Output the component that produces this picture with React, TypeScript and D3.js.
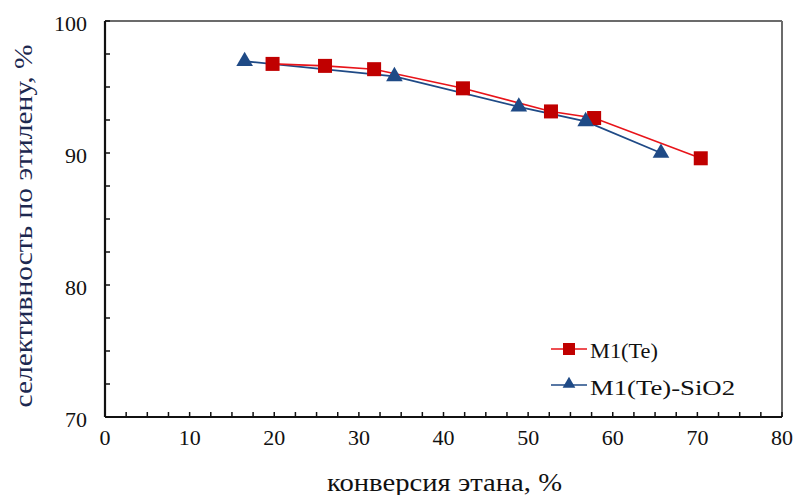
import React from "react";
import * as d3 from "d3";

const seriesNames = ["M1(Te)", "M1(Te)-SiO2"];
const teX = [19.8, 26.0, 31.8, 42.3, 52.7, 57.8, 70.4];
const teY = [96.75, 96.6, 96.35, 94.9, 93.15, 92.65, 89.6];
const sioX = [16.5, 34.2, 48.9, 56.8, 65.7];
const sioY = [96.95, 95.8, 93.5, 92.4, 90.0];
const xTickLabels = [0, 10, 20, 30, 40, 50, 60, 70, 80];
const yTickLabels = [70, 80, 90, 100];

const W = 795;
const H = 495;
const M = { left: 105, top: 21, right: 13, bottom: 78 };
const RED = "#c00000";
const RED_LINE = "#e8141a";
const BLUE = "#1f4a86";
const FONT = "'Liberation Serif', 'Times New Roman', serif";
const txt = { fontFamily: FONT };

export default function App() {
  const x = d3.scaleLinear().domain([0, 80]).range([M.left, W - M.right]);
  const y = d3.scaleLinear().domain([70, 100]).range([H - M.bottom, M.top]);
  const line = d3
    .line<[number, number]>()
    .x((d) => x(d[0]))
    .y((d) => y(d[1]));

  const te: [number, number][] = teX.map((v, i) => [v, teY[i]]);
  const sio: [number, number][] = sioX.map((v, i) => [v, sioY[i]]);

  const xMinor = d3.range(0, 80.001, 2.5);
  const yMinor = d3.range(70, 100.001, 2.5);
  const sq = 14;
  const tri = d3.symbol().type(d3.symbolTriangle).size(120)() as string;
  const triSmall = d3.symbol().type(d3.symbolTriangle).size(70)() as string;

  const x0 = x(0);
  const x1 = x(80);
  const y0 = y(70);
  const y1 = y(100);

  return (
    <svg
      width={W}
      height={H}
      style={{ position: "absolute", left: 0, top: 0, background: "#fff" }}
    >
      {/* frame: light top/right, dark axes left/bottom */}
      <line x1={x0} x2={x1} y1={y1} y2={y1} stroke="#6b6b6b" strokeWidth={2} />
      <line x1={x1} x2={x1} y1={y1} y2={y0} stroke="#6b6b6b" strokeWidth={2} />
      <line x1={x0} x2={x1} y1={y0} y2={y0} stroke="#111" strokeWidth={2.2} />
      <line x1={x0} x2={x0} y1={y1} y2={y0} stroke="#111" strokeWidth={2.2} />

      {xMinor.map((t) => (
        <line key={"xt" + t} x1={x(t)} x2={x(t)} y1={y0} y2={y0 - 5} stroke="#111" strokeWidth={1.5} />
      ))}
      {yMinor.map((t) => (
        <line key={"yt" + t} x1={x0} x2={x0 + 5} y1={y(t)} y2={y(t)} stroke="#111" strokeWidth={1.5} />
      ))}

      {xTickLabels.map((t) => (
        <text key={"xl" + t} x={x(t)} y={y0 + 28} textAnchor="middle" fontSize={22} fill="#111" style={txt}>
          {t}
        </text>
      ))}
      {yTickLabels.map((t) => (
        <text key={"yl" + t} x={x0 - 18} y={y(t) + 10} textAnchor="end" fontSize={22} fill="#111" style={txt}>
          {t}
        </text>
      ))}

      <text
        x={444.5}
        y={491}
        textAnchor="middle"
        fontSize={25}
        fill="#111"
        style={txt}
        textLength={235}
        lengthAdjust="spacingAndGlyphs"
      >
        конверсия этана, %
      </text>
      <text
        transform={`translate(32, 226) rotate(-90)`}
        textAnchor="middle"
        fontSize={25}
        fill="#1c2850"
        style={txt}
        textLength={363}
        lengthAdjust="spacingAndGlyphs"
      >
        селективность по этилену, %
      </text>

      {/* series lines */}
      <path d={line(sio) as string} fill="none" stroke={BLUE} strokeWidth={1.8} />
      <path d={line(te) as string} fill="none" stroke={RED_LINE} strokeWidth={1.6} />

      {te.map((d, i) => (
        <rect key={"s" + i} x={x(d[0]) - sq / 2} y={y(d[1]) - sq / 2} width={sq} height={sq} fill={RED} />
      ))}
      {sio.map((d, i) => (
        <path key={"t" + i} d={tri} transform={`translate(${x(d[0])},${y(d[1])})`} fill={BLUE} />
      ))}

      {/* legend */}
      <g>
        <line x1={551} x2={587} y1={349} y2={349} stroke={RED_LINE} strokeWidth={1.6} />
        <rect x={563} y={343} width={12} height={12} fill={RED} />
        <text x={590} y={358} fontSize={22} fill="#111" style={txt} textLength={68} lengthAdjust="spacingAndGlyphs">
          {seriesNames[0]}
        </text>
        <line x1={551} x2={587} y1={385} y2={385} stroke={BLUE} strokeWidth={1.6} />
        <path d={triSmall} transform="translate(569,384)" fill={BLUE} />
        <text x={590} y={395} fontSize={22} fill="#111" style={txt} textLength={145} lengthAdjust="spacingAndGlyphs">
          {seriesNames[1]}
        </text>
      </g>
    </svg>
  );
}
